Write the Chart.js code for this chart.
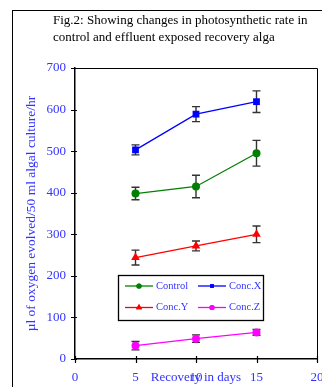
<!DOCTYPE html>
<html>
<head>
<meta charset="utf-8">
<script src="https://cdn.jsdelivr.net/npm/chart.js@4.4.0/dist/chart.umd.min.js"></script>
<style>
  html, body { margin: 0; padding: 0; background: #fff; }
  canvas { display: block; }
</style>
</head>
<body>
<canvas id="chart" width="322" height="387"></canvas>
<script>
// Recovery time points (days)
const days = [5, 10, 15];
const xTicks = [0, 5, 10, 15, 20];
const yTicks = [0, 100, 200, 300, 400, 500, 600, 700];

// Oxygen evolved (µl / 50 ml algal culture / hr) and standard errors
const control = [398, 415, 495];
const controlErr = [15, 27, 31];
const concX = [503, 589, 619];
const concXErr = [12, 18, 26];
const concY = [244, 272, 300];
const concYErr = [18, 12, 20];
const concZ = [32, 49, 64];
const concZErr = [10, 9, 7];

const seriesNames = ['Control', 'Conc.X', 'Conc.Y', 'Conc.Z'];
const titleLines = [
  'Fig.2: Showing changes in photosynthetic rate in',
  'control and effluent exposed recovery alga'
];
const xTitle = 'Recovery in days';
const yTitle = 'µl of oxygen evolved/50 ml algal culture/hr';

const SERIF = "'Liberation Serif', 'Times New Roman', serif";
const LABEL_BLUE = '#3333ff';

function points(values) {
  return days.map((d, i) => ({ x: d, y: values[i] }));
}

function series(label, values, errors, color, style, radius) {
  return {
    label: label,
    data: points(values),
    errors: errors,
    borderColor: color,
    backgroundColor: color,
    borderWidth: 1.3,
    pointStyle: style,
    pointRadius: radius,
    pointHoverRadius: radius,
    pointBorderWidth: 0,
    pointBackgroundColor: color,
    legendRadius: style === 'triangle' ? 3.5 : 2.6,
    tension: 0
  };
}

// White page background, outer figure frame and heading
const backdrop = {
  id: 'backdrop',
  beforeDraw(chart) {
    const ctx = chart.ctx;
    ctx.save();
    ctx.fillStyle = '#fff';
    ctx.fillRect(0, 0, chart.width, chart.height);
    ctx.strokeStyle = '#000';
    ctx.lineWidth = 1;
    ctx.strokeRect(12.5, 10.5, chart.width + 20, chart.height + 20);
    ctx.fillStyle = '#000';
    ctx.font = '13px ' + SERIF;
    ctx.textBaseline = 'middle';
    ctx.textAlign = 'left';
    titleLines.forEach((line, i) => ctx.fillText(line, 53, 21 + i * 17));
    ctx.restore();
  }
};

// Plot frame (top/right), tick marks crossing the axes, x-axis caption
const frameTicks = {
  id: 'frameTicks',
  afterDraw(chart) {
    const ctx = chart.ctx;
    const a = chart.chartArea;
    const xs = chart.scales.x, ys = chart.scales.y;
    ctx.save();
    ctx.strokeStyle = '#000';
    ctx.lineWidth = 1;
    ctx.beginPath();
    ctx.moveTo(a.left, a.top + 0.5);
    ctx.lineTo(a.right + 0.5, a.top + 0.5);
    ctx.lineTo(a.right + 0.5, a.bottom);
    ctx.stroke();
    ctx.lineWidth = 1.2;
    ctx.beginPath();
    yTicks.forEach(v => {
      const y = Math.round(ys.getPixelForValue(v)) + 0.5;
      ctx.moveTo(a.left - 4, y);
      ctx.lineTo(a.left + 2, y);
    });
    xTicks.forEach(v => {
      const x = Math.round(xs.getPixelForValue(v)) + 0.5;
      ctx.moveTo(x, a.bottom - 3);
      ctx.lineTo(x, a.bottom + 4);
    });
    ctx.stroke();
    // caption shares the line of the tick labels
    ctx.fillStyle = LABEL_BLUE;
    ctx.font = '13px ' + SERIF;
    ctx.textAlign = 'center';
    ctx.textBaseline = 'middle';
    ctx.fillText(xTitle, (a.left + a.right) / 2, a.bottom + 19);
    ctx.restore();
  }
};

// Vertical error bars with caps, drawn beneath the markers
const errorBars = {
  id: 'errorBars',
  beforeDatasetsDraw(chart) {
    const ctx = chart.ctx;
    const xs = chart.scales.x, ys = chart.scales.y;
    ctx.save();
    ctx.strokeStyle = '#333';
    ctx.lineWidth = 1.4;
    chart.data.datasets.forEach(ds => {
      ds.data.forEach((p, i) => {
        const e = ds.errors[i];
        const x = xs.getPixelForValue(p.x);
        const yTop = ys.getPixelForValue(p.y + e);
        const yBot = ys.getPixelForValue(p.y - e);
        ctx.beginPath();
        ctx.moveTo(x, yTop);
        ctx.lineTo(x, yBot);
        ctx.moveTo(x - 4, yTop);
        ctx.lineTo(x + 4, yTop);
        ctx.moveTo(x - 4, yBot);
        ctx.lineTo(x + 4, yBot);
        ctx.stroke();
      });
    });
    ctx.restore();
  }
};

// Boxed two-column legend inside the plot
const boxLegend = {
  id: 'boxLegend',
  afterDraw(chart) {
    const ctx = chart.ctx;
    const box = { x: 118, y: 275, w: 145, h: 45 };
    const cols = [125, 198];
    const rows = [286, 307.5];
    ctx.save();
    ctx.fillStyle = '#fff';
    ctx.fillRect(box.x, box.y, box.w, box.h);
    ctx.strokeStyle = '#000';
    ctx.lineWidth = 1.3;
    ctx.strokeRect(box.x + 0.5, box.y + 0.5, box.w, box.h);
    ctx.font = '10.5px ' + SERIF;
    ctx.textBaseline = 'middle';
    ctx.textAlign = 'left';
    chart.data.datasets.forEach((ds, i) => {
      const x0 = cols[i % 2];
      const y = rows[Math.floor(i / 2)];
      ctx.strokeStyle = ds.borderColor;
      ctx.lineWidth = 1.3;
      ctx.beginPath();
      ctx.moveTo(x0, y);
      ctx.lineTo(x0 + 28, y);
      ctx.stroke();
      ctx.fillStyle = ds.borderColor;
      Chart.helpers.drawPoint(ctx, {
        pointStyle: ds.pointStyle,
        radius: ds.legendRadius,
        rotation: 0,
        borderWidth: 0
      }, x0 + 14, y);
      ctx.fill();
      ctx.fillStyle = LABEL_BLUE;
      ctx.fillText(ds.label, x0 + 31, y);
    });
    ctx.restore();
  }
};

new Chart(document.getElementById('chart'), {
  type: 'line',
  data: {
    datasets: [
      series(seriesNames[0], control, controlErr, '#008000', 'circle', 4),
      series(seriesNames[1], concX, concXErr, '#0000ff', 'rect', 4.8),
      series(seriesNames[2], concY, concYErr, '#ff0000', 'triangle', 5),
      series(seriesNames[3], concZ, concZErr, '#ff00ff', 'circle', 4)
    ]
  },
  options: {
    responsive: false,
    animation: false,
    events: [],
    layout: { padding: { top: 68, right: 2, bottom: 0, left: 0 } },
    plugins: {
      legend: { display: false },
      tooltip: { enabled: false },
      title: { display: false }
    },
    scales: {
      x: {
        type: 'linear',
        min: 0,
        max: 20,
        afterBuildTicks(scale) { scale.ticks = xTicks.map(v => ({ value: v })); },
        afterFit(scale) { scale.paddingLeft = 0; scale.paddingRight = 0; scale.height = 28; },
        grid: { display: false, drawTicks: false },
        border: { display: true, color: '#000', width: 1.5 },
        ticks: {
          padding: 11,
          color: LABEL_BLUE,
          font: { family: SERIF, size: 13 },
          maxRotation: 0,
          autoSkip: false
        },
        title: { display: false }
      },
      y: {
        type: 'linear',
        min: 0,
        max: 700,
        afterBuildTicks(scale) { scale.ticks = yTicks.map(v => ({ value: v })); },
        afterFit(scale) { scale.width = 75; },
        grid: { display: false, drawTicks: false },
        border: { display: true, color: '#000', width: 1.5 },
        ticks: {
          padding: 9,
          color: LABEL_BLUE,
          font: { family: SERIF, size: 13 },
          autoSkip: false
        },
        title: {
          display: true,
          text: yTitle,
          color: LABEL_BLUE,
          font: { family: SERIF, size: 13.5 },
          padding: { top: 23, bottom: 0 }
        }
      }
    }
  },
  plugins: [backdrop, errorBars, frameTicks, boxLegend]
});
</script>
</body>
</html>
